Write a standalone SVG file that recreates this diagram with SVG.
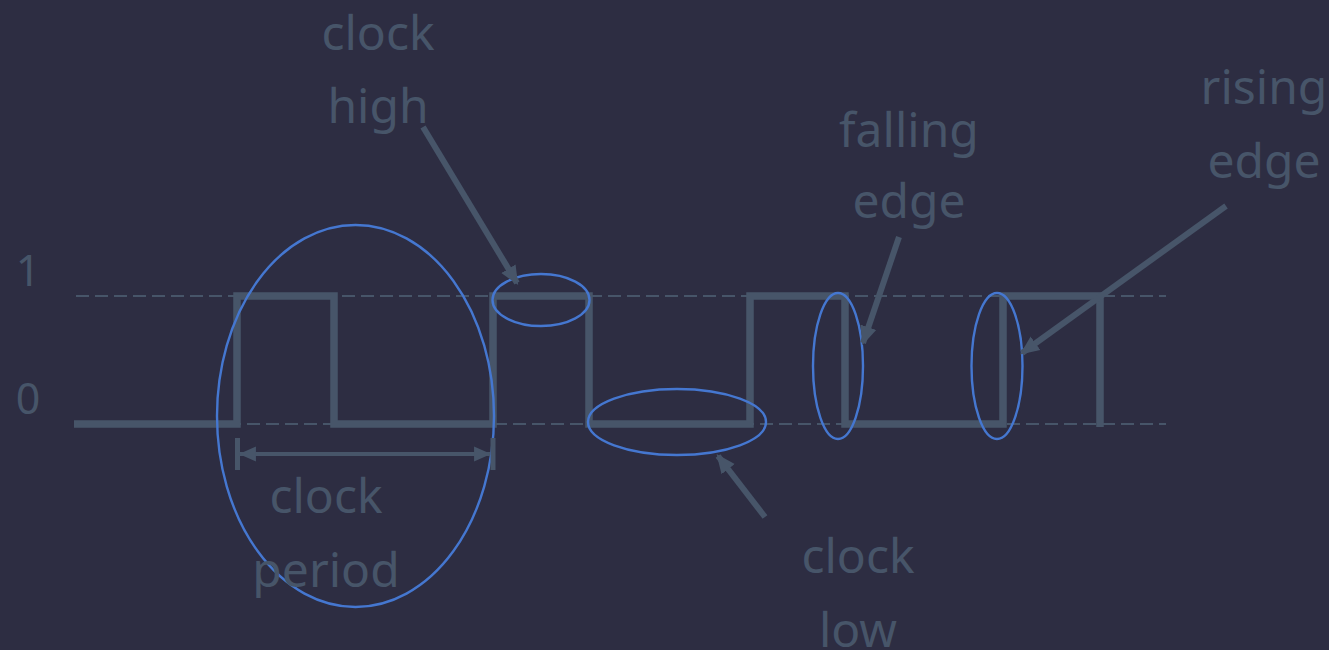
<svg xmlns="http://www.w3.org/2000/svg" width="1329" height="650" viewBox="0 0 1329 650">
<style>
.bg{fill:#2d2d42}
.grid{stroke:#475569;stroke-width:2;stroke-dasharray:13 6;fill:none}
.wave{stroke:#475569;stroke-width:7.5;fill:none;stroke-linejoin:miter}
.ring{stroke:#4577d0;stroke-width:2.4;fill:none}
.arr{stroke:#475569;stroke-width:6;fill:none;marker-end:url(#ah)}
.lbl{font-family:"Noto Sans","Open Sans",sans-serif;font-size:48px;fill:#475569;text-anchor:middle}
.num{font-family:"Noto Sans","Open Sans",sans-serif;font-size:43px;fill:#475569;text-anchor:middle}
</style>
<defs>
<marker id="ah" markerUnits="userSpaceOnUse" viewBox="0 0 16 16" refX="14" refY="8" markerWidth="19" markerHeight="19" orient="auto">
<path d="M0,1 L16,8 L0,15 Z" fill="#475569"/>
</marker>
<marker id="dh" markerUnits="userSpaceOnUse" viewBox="0 0 16 16" refX="15" refY="8" markerWidth="17" markerHeight="17" orient="auto-start-reverse">
<path d="M0,1 L16,8 L0,15 Z" fill="#475569"/>
</marker>
</defs>
<rect class="bg" x="0" y="0" width="1329" height="650"/>
<g id="axes">
<line class="grid" x1="76" y1="296" x2="1166" y2="296"/>
<line class="grid" x1="76" y1="424" x2="1166" y2="424"/>
<text class="num" x="28" y="286">1</text>
<text class="num" x="28" y="414">0</text>
</g>
<g id="waveform">
<path class="wave" d="M74,424 H237 V296 H334 V424 H493 V296 H589 V424 H750 V296 H845 V424 H1003 V296 H1100 V427"/>
</g>
<g id="highlights">
<ellipse id="period-ring" class="ring" cx="355.5" cy="416" rx="138.5" ry="191"/>
<ellipse id="high-ring" class="ring" cx="541" cy="300" rx="48.5" ry="26"/>
<ellipse id="low-ring" class="ring" cx="677" cy="422" rx="89" ry="33"/>
<ellipse id="falling-ring" class="ring" cx="838" cy="366" rx="25" ry="73"/>
<ellipse id="rising-ring" class="ring" cx="997" cy="366" rx="25.5" ry="73"/>
</g>
<g id="connectors">
<line class="arr" x1="423" y1="127" x2="517" y2="283"/>
<line class="arr" x1="765" y1="517" x2="718" y2="456"/>
<line class="arr" x1="899" y1="237" x2="863" y2="343"/>
<line class="arr" x1="1226" y1="206" x2="1022" y2="353"/>
<g id="period-dimension">
<line x1="237.5" y1="438" x2="237.5" y2="470" stroke="#475569" stroke-width="5"/>
<line x1="493" y1="438" x2="493" y2="470" stroke="#475569" stroke-width="5"/>
<line x1="240" y1="454" x2="490" y2="454" stroke="#475569" stroke-width="4" marker-start="url(#dh)" marker-end="url(#dh)"/>
</g>
</g>
<g id="label-clock-high"><text class="lbl" x="378" y="50">clock</text><text class="lbl" x="378" y="123">high</text></g>
<g id="label-falling-edge"><text class="lbl" x="909" y="147">falling</text><text class="lbl" x="909" y="218">edge</text></g>
<g id="label-rising-edge"><text class="lbl" x="1264" y="104">rising</text><text class="lbl" x="1264" y="178">edge</text></g>
<g id="label-clock-period"><text class="lbl" x="326" y="513">clock</text><text class="lbl" x="326" y="587">period</text></g>
<g id="label-clock-low"><text class="lbl" x="858" y="573">clock</text><text class="lbl" x="858" y="647">low</text></g>
</svg>
